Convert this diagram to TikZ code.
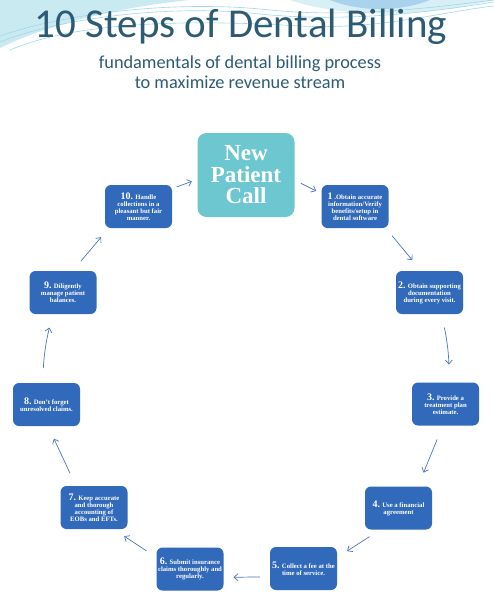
\documentclass[tikz,border=0pt]{standalone}
\usepackage{fontspec}
\setmainfont{Liberation Serif}
\newfontfamily\headfont{Carlito}
\usetikzlibrary{arrows.meta,calc}
\definecolor{stepc}{HTML}{3169BB}
\definecolor{callc}{HTML}{6CC7D1}
\definecolor{titlec}{HTML}{2D5B74}
\definecolor{arrc}{HTML}{4C76BC}
\definecolor{wavec}{HTML}{9FD8E8}
\definecolor{wavedk}{HTML}{6FB6E0}
\newcommand{\stepno}[1]{{\fontsize{10}{7}\selectfont #1}}
\tikzset{
  stepbox/.style={fill=stepc, rounded corners=6pt, minimum width=67pt, minimum height=43pt,
    align=center, inner sep=0pt, outer sep=0pt, text=white,
    font=\fontsize{6.7}{7}\selectfont\bfseries},
  callbox/.style={fill=callc, rounded corners=9pt, minimum width=97pt, minimum height=84pt,
    align=center, inner sep=0pt, outer sep=0pt, text=white,
    font=\fontsize{23}{21.5}\selectfont\bfseries},
  arr/.style={-{Straight Barb[length=4pt,width=7pt]}, arrc, line width=0.7pt},
  wave/.style={wavec, line width=0.6pt},
}
\begin{document}
\begin{tikzpicture}[x=1pt, y=-1pt]
  \useasboundingbox[fill=white] (0,0) rectangle (494,600);
  % waves at the top
  \fill[wavec!55] (0,0) -- (0,48) .. controls (40,28) and (110,8) .. (190,0) -- cycle;
  \fill[wavec!40] (290,0) .. controls (350,20) and (430,16) .. (494,0) -- cycle;
  \fill[wavedk!60] (330,0) .. controls (360,12) and (400,12) .. (430,0) -- cycle;
  \draw[wave] (0,42) .. controls (60,18) and (170,4) .. (260,14) .. controls (340,22) and (420,14) .. (494,2);
  \draw[wave] (0,36) .. controls (70,12) and (180,0) .. (270,10) .. controls (350,18) and (430,8) .. (494,0);
  \draw[wave] (10,50) .. controls (80,20) and (200,20) .. (300,26) .. controls (380,30) and (440,12) .. (494,6);
  % titles
  \node[font=\headfont\fontsize{41}{41}\selectfont, text=titlec] (title) at (241,27) {10 Steps of Dental Billing};
  \node[font=\headfont\fontsize{18.3}{20}\selectfont, text=titlec, align=center] (sub) at (240,72)
    {fundamentals of dental billing process\\to maximize revenue stream};
  % boxes
  \node[callbox] (call) at (246,175) {New\\Patient\\Call};
  \node[stepbox] (s1) at (355,206.5) {\stepno{1} .Obtain accurate\\information/Verify\\benefits/setup in\\dental software};
  \node[stepbox] (s2) at (429.5,292.5) {\stepno{2.} Obtain supporting\\documentation\\during every visit.};
  \node[stepbox] (s3) at (445.5,404) {\stepno{3.} Provide a\\treatment plan\\estimate.};
  \node[stepbox] (s4) at (398.5,508) {\stepno{4.} Use a financial\\agreement};
  \node[stepbox] (s5) at (303.5,568.5) {\stepno{5.} Collect a fee at the\\time of service.};
  \node[stepbox] (s6) at (190,569) {\stepno{6.} Submit insurance\\claims thoroughly and\\regularly.};
  \node[stepbox] (s7) at (94,507.5) {\stepno{7.} Keep accurate\\and thorough\\accounting of\\EOBs and EFTs.};
  \node[stepbox] (s8) at (46.5,404.5) {\stepno{8.} Don't forget\\unresolved claims.};
  \node[stepbox] (s9) at (63,292.5) {\stepno{9.} Diligently\\manage patient\\balances.};
  \node[stepbox] (s10) at (138.5,206.5) {\stepno{10.} Handle\\collections in a\\pleasant but fair\\manner.};
  % arrows round the cycle
  \draw[arr, shorten <=5pt, shorten >=6pt] (s10.28) -- (call.185);
  \draw[arr, shorten <=7pt, shorten >=6pt] (call.-6) -- (s1.159);
  \draw[arr, shorten <=10pt, shorten >=14pt] (s1.-35) -- (s2.111);
  \draw[arr, shorten <=14pt, shorten >=18pt] (s2.-61) to[bend left=6] (s3.81);
  \draw[arr, shorten <=15pt, shorten >=15pt] (s3.-97) -- (s4.48);
  \draw[arr, shorten <=13pt, shorten >=12pt] (s4.-130) -- (s5.18);
  \draw[arr, shorten <=10pt, shorten >=10pt] (s5.194) -- (s6.-14);
  \draw[arr, shorten <=12pt, shorten >=13pt] (s6.161) -- (s7.-48);
  \draw[arr, shorten <=14pt, shorten >=14pt] (s7.130) -- (s8.-86);
  \draw[arr, shorten <=15pt, shorten >=14pt] (s8.100) to[bend left=6] (s9.-115);
  \draw[arr, shorten <=13pt, shorten >=12pt] (s9.66) -- (s10.-144);
\end{tikzpicture}
\end{document}
